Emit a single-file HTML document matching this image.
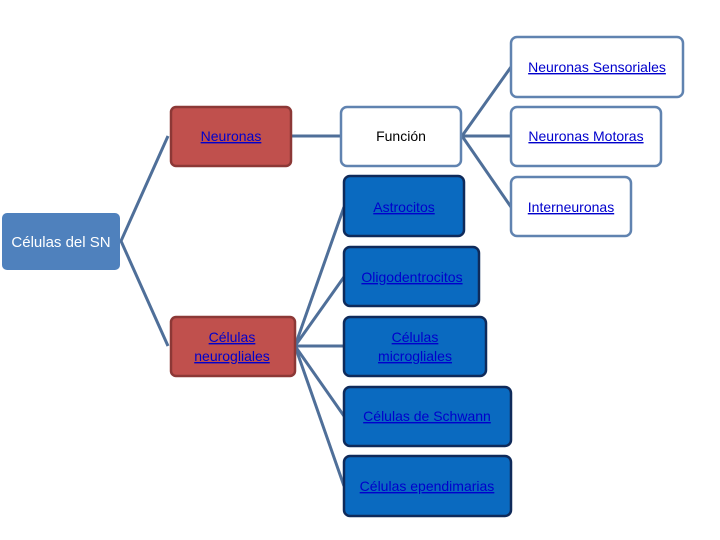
<!DOCTYPE html>
<html><head><meta charset="utf-8"><style>
body{margin:0;background:#fff;}
svg{display:block;}
text{font-family:"Liberation Sans",sans-serif;font-size:14px;text-anchor:middle;}
.l{fill:#0000cc;text-decoration:underline;}
</style></head><body>
<svg width="720" height="540" xmlns="http://www.w3.org/2000/svg">
<g stroke="#4f6f99" stroke-width="3" fill="none">
<polyline points="168,136 121,241 168,346"/>
<line x1="292" y1="136" x2="341" y2="136"/>
<line x1="462" y1="136" x2="511" y2="67"/>
<line x1="462" y1="136" x2="511" y2="136"/>
<line x1="462" y1="136" x2="511" y2="207"/>
<line x1="295" y1="346" x2="344" y2="207"/>
<line x1="295" y1="346" x2="344" y2="277"/>
<line x1="295" y1="346" x2="344" y2="346"/>
<line x1="295" y1="346" x2="344" y2="416"/>
<line x1="295" y1="346" x2="344" y2="486"/>
</g>
<rect x="2" y="213" width="118" height="57" rx="5" fill="#4f81bd"/>
<text x="61" y="247" fill="#fff" style="font-size:15px">Células del SN</text>
<g stroke="#8c3836" stroke-width="2.5" fill="#c0504d">
<rect x="171" y="107" width="120" height="59" rx="5"/>
<rect x="171" y="317" width="124" height="59" rx="5"/>
</g>
<text x="231" y="141" class="l">Neuronas</text>
<text x="232" y="342" class="l">Células</text>
<text x="232" y="361" class="l">neurogliales</text>
<g stroke="#6083b0" stroke-width="2.5" fill="#fff">
<rect x="341" y="107" width="120" height="59" rx="6"/>
<rect x="511" y="37" width="172" height="60" rx="6"/>
<rect x="511" y="107" width="150" height="59" rx="6"/>
<rect x="511" y="177" width="120" height="59" rx="6"/>
</g>
<text x="401" y="141" fill="#000">Función</text>
<text x="597" y="72" class="l">Neuronas Sensoriales</text>
<text x="586" y="141" class="l">Neuronas Motoras</text>
<text x="571" y="212" class="l">Interneuronas</text>
<g stroke="#0f2a5a" stroke-width="2.5" fill="#0a6ac0">
<rect x="344" y="176" width="120" height="60" rx="6"/>
<rect x="344" y="247" width="135" height="59" rx="6"/>
<rect x="344" y="317" width="142" height="59" rx="6"/>
<rect x="344" y="387" width="167" height="59" rx="6"/>
<rect x="344" y="456" width="167" height="60" rx="6"/>
</g>
<text x="404" y="212" class="l">Astrocitos</text>
<text x="412" y="282" class="l">Oligodentrocitos</text>
<text x="415" y="342" class="l">Células</text>
<text x="415" y="361" class="l">microgliales</text>
<text x="427" y="421" class="l">Células de Schwann</text>
<text x="427" y="491" class="l">Células ependimarias</text>
</svg>
</body></html>
